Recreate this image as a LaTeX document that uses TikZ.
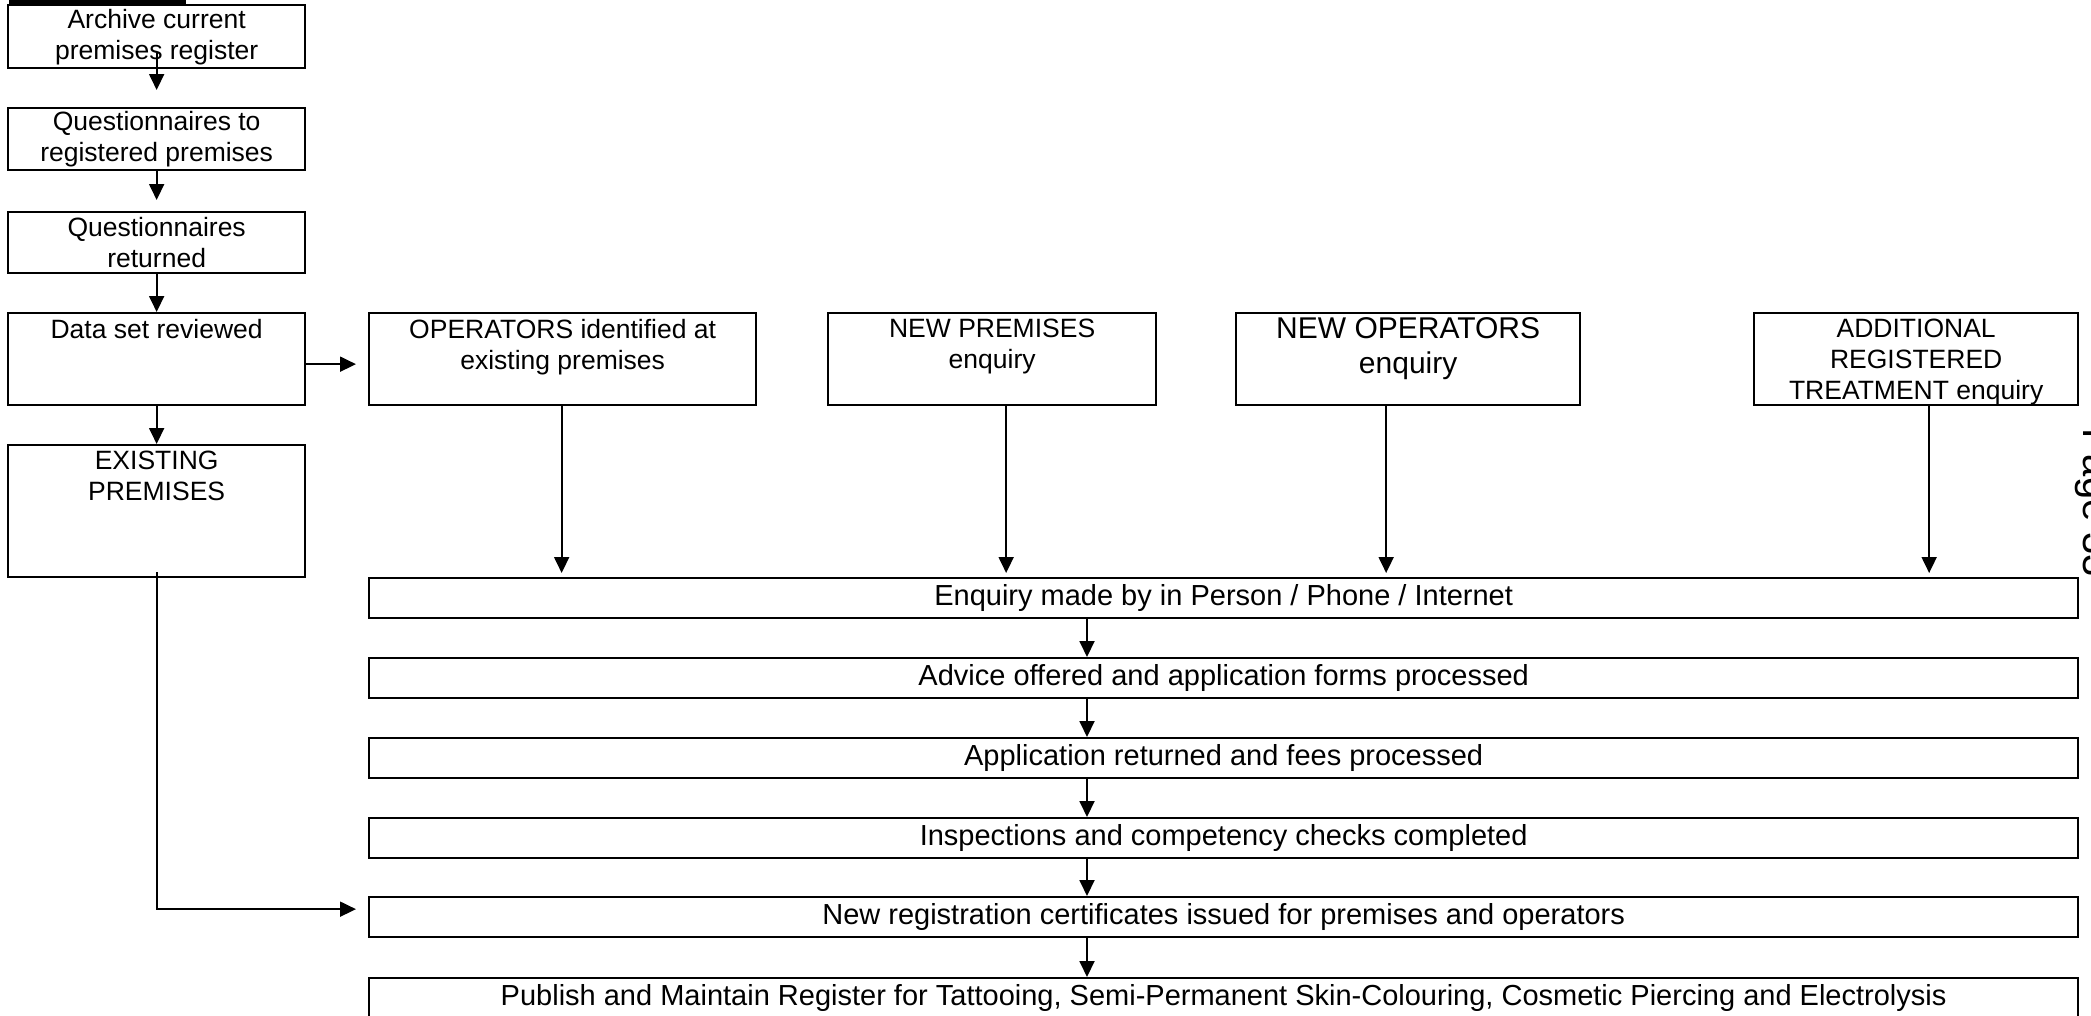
\documentclass[tikz,border=0pt]{standalone}
\usepackage{fontspec}
\setmainfont{Liberation Sans}
\usetikzlibrary{arrows.meta}
\newcommand\fsmain{\fontsize{26.5}{31}\selectfont}
\newcommand\fsbig{\fontsize{30}{35}\selectfont}
\newcommand\fswide{\fontsize{29}{34}\selectfont}
\tikzset{
  box/.style={draw, line width=2.3pt, inner sep=0pt, anchor=north west, align=center},
  wbox/.style={box, minimum width=1709pt, minimum height=40pt, font=\fswide},
  lbl/.style={inner sep=0pt, anchor=north, align=center},
  arr/.style={-{Triangle[length=16pt,width=15pt]}, line width=1.9pt},
}
\begin{document}
\begin{tikzpicture}[x=1pt,y=-1pt,font=\fsmain]
\useasboundingbox (0,0) rectangle (2091,1015);
% black bar at the top left
\fill (9,0) rectangle (186,5);
% left column
\node[box, minimum width=297pt, minimum height=63pt] (a1) at (7,4) {Archive current\\premises register};
\node[box, minimum width=297pt, minimum height=62pt] (a2) at (7,107) {Questionnaires to\\registered premises};
\node[box, minimum width=297pt, minimum height=61pt] (a3) at (7,211) {Questionnaires\\returned};
\node[box, minimum width=297pt, minimum height=92pt] (a4) at (7,312) {};
\node[lbl] (a4t) at ([yshift=-7pt]a4.north) {Data set reviewed};
\node[box, minimum width=297pt, minimum height=132pt] (ex) at (7,444) {};
\node[lbl] (ext) at ([yshift=-7pt]ex.north) {EXISTING\\PREMISES};
% top row
\node[box, minimum width=387pt, minimum height=92pt] (ops) at (368,312) {};
\node[lbl] (opst) at ([yshift=-7pt]ops.north) {OPERATORS identified at\\existing premises};
\node[box, minimum width=328pt, minimum height=92pt] (np) at (827,312) {};
\node[lbl] (npt) at ([yshift=-7pt]np.north) {NEW PREMISES\\enquiry};
\node[box, minimum width=344pt, minimum height=92pt] (no) at (1235,312) {};
\node[lbl, font=\fsbig] (not) at ([yshift=-5pt]no.north) {NEW OPERATORS\\enquiry};
\node[box, minimum width=324pt, minimum height=92pt] (ad) at (1753,312) {};
\node[lbl] (adt) at ([yshift=-7pt]ad.north) {ADDITIONAL\\REGISTERED\\TREATMENT enquiry};
% wide boxes
\node[wbox] (enq) at (368,577) {Enquiry made by in Person / Phone / Internet};
\node[wbox] (adv) at (368,657) {Advice offered and application forms processed};
\node[wbox] (app) at (368,737) {Application returned and fees processed};
\node[wbox] (insp) at (368,817) {Inspections and competency checks completed};
\node[wbox] (nr) at (368,896) {New registration certificates issued for premises and operators};
\node[wbox] (pub) at (368,977) {Publish and Maintain Register for Tattooing, Semi-Permanent Skin-Colouring, Cosmetic Piercing and Electrolysis};
% page number
\node[rotate=-90, anchor=base west, inner sep=0pt, font=\fontsize{40}{48}\selectfont] (pg) at (2083,428) {Page 33};
% connectors, left column
\draw[arr] ([yshift=16pt]a1.south) -- ([yshift=17pt]a2.north);
\draw[arr] (a2.south) -- ([yshift=11pt]a3.north);
\draw[arr] (a3.south) -- (a4.north);
\draw[arr] (a4.south) -- (ex.north);
\draw[arr] ([yshift=-5pt]a4.east) -- ([xshift=-12pt,yshift=-5pt]ops.west);
\draw[arr] ([yshift=6pt]ex.south) |- ([xshift=-12pt,yshift=8pt]nr.west);
% connectors, top row to enquiry
\coordinate (opsA) at ([xshift=-1pt]ops.south);
\coordinate (npA) at ([xshift=14pt]np.south);
\coordinate (noA) at ([xshift=-22pt]no.south);
\coordinate (adA) at ([xshift=13pt]ad.south);
\draw[arr, shorten >=4pt] (opsA) -- (opsA |- enq.north);
\draw[arr, shorten >=4pt] (npA) -- (npA |- enq.north);
\draw[arr, shorten >=4pt] (noA) -- (noA |- enq.north);
\draw[arr, shorten >=4pt] (adA) -- (adA |- enq.north);
% central column
\coordinate (cx) at (1087,0);
\draw[arr] (enq.south -| cx) -- (adv.north -| cx);
\draw[arr] (adv.south -| cx) -- (app.north -| cx);
\draw[arr] (app.south -| cx) -- (insp.north -| cx);
\draw[arr] (insp.south -| cx) -- (nr.north -| cx);
\draw[arr] (nr.south -| cx) -- (pub.north -| cx);
\end{tikzpicture}
\end{document}
